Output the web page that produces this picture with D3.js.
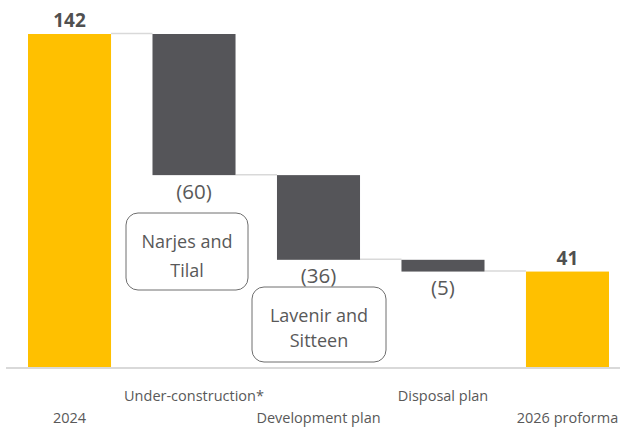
<!DOCTYPE html>
<html>
<head>
<meta charset="utf-8">
<script src="https://cdn.jsdelivr.net/npm/d3@7/dist/d3.min.js"></script>
<style>
  html, body { margin: 0; padding: 0; background: #fff; }
  svg { display: block; }
</style>
</head>
<body>
<svg id="chart" width="620" height="430"></svg>
<script>
// Waterfall: opening total, changes, closing total
const categories = ["2024", "Under-construction*", "Development plan", "Disposal plan", "2026 proforma"];
const values = [142, -60, -36, -5, 41];
const kinds = ["total", "delta", "delta", "delta", "total"];
const valueLabels = ["142", "(60)", "(36)", "(5)", "41"];
const notes = [
  { index: 1, lines: ["Narjes and", "Tilal"] },
  { index: 2, lines: ["Lavenir and", "Sitteen"] }
];

const svg = d3.select("#chart");
const baseY = 368;
const font = "'Open Sans', sans-serif";

const x = d3.scaleBand().domain(categories).range([28, 609]).paddingInner(0.333).paddingOuter(0);
const y = d3.scaleLinear().domain([0, 142]).range([baseY, 34]);

// running positions for each bar
let running = 0;
const bars = categories.map((c, i) => {
  let lo, hi;
  if (kinds[i] === "total") { lo = 0; hi = values[i]; running = values[i]; }
  else { const start = running; running += values[i]; lo = Math.min(start, running); hi = Math.max(start, running); }
  return { c, i, lo, hi, end: running, kind: kinds[i] };
});

// connectors
svg.append("g").selectAll("line").data(bars.slice(0, -1)).join("line")
  .attr("x1", d => x(d.c) + x.bandwidth())
  .attr("x2", d => x(categories[d.i + 1]))
  .attr("y1", d => y(d.end) - 0.5)
  .attr("y2", d => y(d.end) - 0.5)
  .attr("stroke", "#d9d9d9").attr("stroke-width", 1.5);

// bars
svg.append("g").selectAll("rect").data(bars).join("rect")
  .attr("x", d => x(d.c))
  .attr("width", x.bandwidth())
  .attr("y", d => y(d.hi))
  .attr("height", d => y(d.lo) - y(d.hi))
  .attr("fill", d => d.kind === "total" ? "#ffc000" : "#555559");

// axis baseline
const axis = d3.axisBottom(x).tickSize(0).tickFormat("");
svg.append("g").attr("transform", `translate(0,${baseY})`).call(axis)
  .call(g => g.select(".domain").attr("d", "M6,0H620").attr("stroke", "#d9d9d9").attr("stroke-width", 2));

// value labels
svg.append("g").selectAll("text").data(bars).join("text")
  .attr("x", d => x(d.c) + x.bandwidth() / 2)
  .attr("y", d => d.kind === "total" ? y(d.hi) - 7 : y(d.lo) + 23.5)
  .attr("text-anchor", "middle")
  .attr("font-family", font)
  .attr("font-size", d => d.kind === "total" ? 19 : 20.5)
  .attr("font-weight", d => d.kind === "total" ? "bold" : "normal")
  .attr("fill", d => d.kind === "total" ? "#505050" : "#595959")
  .text((d, i) => valueLabels[i]);

// category labels, staggered on two rows
svg.append("g").selectAll("text").data(categories).join("text")
  .attr("x", d => x(d) + x.bandwidth() / 2)
  .attr("y", (d, i) => i % 2 === 1 ? 401 : 423)
  .attr("text-anchor", "middle")
  .attr("font-family", font)
  .attr("font-size", 14.5)
  .attr("fill", "#595959")
  .text(d => d);

// callout boxes
const boxes = [
  { x0: 126, y0: 213, w: 122, h: 77, lineY: [35, 64] },
  { x0: 252, y0: 287, w: 134, h: 75, lineY: [35, 60] }
];
notes.forEach((n, k) => {
  const b = boxes[k];
  const g = svg.append("g");
  g.append("rect").attr("x", b.x0).attr("y", b.y0).attr("width", b.w).attr("height", b.h)
    .attr("rx", 12).attr("ry", 12)
    .attr("fill", "#fff").attr("stroke", "#6e6e6e").attr("stroke-width", 1);
  g.selectAll("text").data(n.lines).join("text")
    .attr("x", b.x0 + b.w / 2)
    .attr("y", (d, i) => b.y0 + b.lineY[i])
    .attr("text-anchor", "middle")
    .attr("font-family", font)
    .attr("font-size", 18)
    .attr("fill", "#595959")
    .text(d => d);
});
</script>
</body>
</html>
